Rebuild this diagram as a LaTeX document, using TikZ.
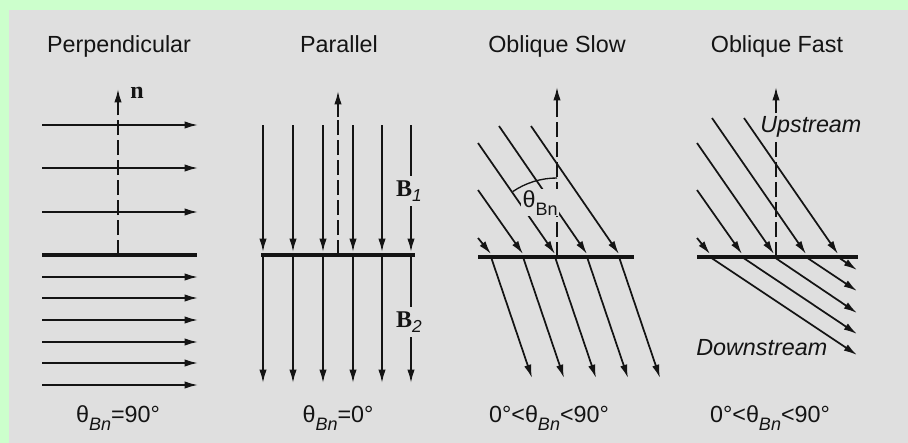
\documentclass[tikz,border=0pt]{standalone}
\usepackage{fontspec}
\setmainfont{Liberation Sans}
\newfontfamily\tmsfont{Liberation Serif}
\usetikzlibrary{arrows.meta}

\definecolor{okraj}{RGB}{204,255,204}
\definecolor{pozadi}{RGB}{223,223,223}
\definecolor{inkoust}{RGB}{20,20,20}

\newcommand{\indBn}[1]{\raisebox{-6pt}{\fontsize{13.5}{13.5}\selectfont #1}}
\newcommand{\thetaBn}{θ\indBn{\itshape Bn}}
\newcommand{\poleB}[1]{{\tmsfont\bfseries\fontsize{18}{18}\selectfont B}\raisebox{-4pt}{\fontsize{13}{13}\selectfont\itshape #1}}

\tikzset{
    silocara/.style={line width=1.3pt, inkoust, ->},
    razlina/.style={line width=3.6pt, inkoust},
    normala/.style={line width=1.2pt, inkoust, dash pattern=on 11pt off 4pt},
    popis/.style={font=\fontsize{17.5}{20}\selectfont, text=inkoust, inner sep=0pt}
}

\begin{document}
\begin{tikzpicture}[x=0.75pt,y=-0.75pt,>={Latex[length=10pt,width=5.5pt]}]

    % Pozadí
    \fill[okraj] (0,0) rectangle (908,443);
    \fill[pozadi] (9,10) rectangle (908,443);
    \useasboundingbox (0,0) rectangle (908,443);

    % Nadpisy
    \node[popis, anchor=base] (tperp) at (119,52) {Perpendicular};
    \node[popis, anchor=base] (tpar) at (339,52) {Parallel};
    \node[popis, anchor=base] (tslow) at (557,52) {Oblique Slow};
    \node[popis, anchor=base] (tfast) at (777,52) {Oblique Fast};

    % Kolmá vlna
    \foreach \y in {125,168,212,277,298,320,342,363,385}{
        \draw[silocara] (42,\y) -- (198,\y);
    }
    \draw[razlina] (42,255) -- (197,255);
    \draw[normala] (118,255) -- (118,114);
    \draw[silocara] (118,115) -- (118,89);
    \node[font=\tmsfont\bfseries\fontsize{18}{18}\selectfont, text=inkoust,
        anchor=base west, inner sep=0pt] (nvec) at (130,98) {n};

    % Rovnoběžná vlna
    \foreach \x in {263,293,323,353,382,411}{
        \draw[silocara] (\x,125) -- (\x,252);
        \draw[silocara] (\x,255) -- (\x,383);
    }
    \draw[razlina] (261,255) -- (415,255);
    \draw[normala] (338,255) -- (338,116);
    \draw[silocara] (338,117) -- (338,91);
    \node[fill=pozadi, inner sep=3pt, text=inkoust] (b1) at (409,191) {\poleB{1}};
    \node[fill=pozadi, inner sep=3pt, text=inkoust] (b2) at (409,322) {\poleB{2}};

    % Šikmá pomalá vlna
    \foreach \xa/\ya/\xs/\xb in {
        478/238/491/532,
        478/190/523/564,
        478/143/555/596,
        499/126/587/628,
        531/126/619/660
    }{
        \draw[silocara] (\xa,\ya) -- (\xs,254);
        \draw[silocara] (\xs,257) -- (\xb,378);
    }
    \draw[razlina] (478,257) -- (634,257);
    \draw[normala] (557,257) -- (557,112);
    \draw[silocara] (557,113) -- (557,87);
    \draw[line width=1pt, inkoust] (557,257) ++(-90:79)
        arc[start angle=-90, end angle=-124, radius=79];
    \node[popis, fill=pozadi, inner sep=1pt, anchor=base west] (uhel) at (521,207)
        {θ\indBn{Bn}};

    % Šikmá rychlá vlna
    \foreach \xa/\ya/\xs/\yb in {
        697/238/710/355,
        697/190/742/334,
        697/143/774/313,
        712/118/806/291,
        744/118/838/270
    }{
        \draw[silocara] (\xa,\ya) -- (\xs,254);
        \draw[silocara] (\xs,257) -- (857,\yb);
    }
    \draw[razlina] (697,257) -- (858,257);
    \draw[normala] (776,257) -- (776,138);
    \draw[silocara] (776,113) -- (776,87);
    \node[popis, font=\fontsize{17.5}{20}\selectfont\itshape, anchor=base west]
        (proti) at (760,132) {Upstream};
    \node[popis, font=\fontsize{17.5}{20}\selectfont\itshape, anchor=base west]
        (po) at (696,355) {Downstream};

    % Úhly
    \node[popis, anchor=base] (uperp) at (118,422) {\thetaBn=90°};
    \node[popis, anchor=base] (upar) at (338,422) {\thetaBn=0°};
    \node[popis, anchor=base] (uslow) at (549,422) {0°<\thetaBn<90°};
    \node[popis, anchor=base] (ufast) at (770,422) {0°<\thetaBn<90°};

\end{tikzpicture}
\end{document}
